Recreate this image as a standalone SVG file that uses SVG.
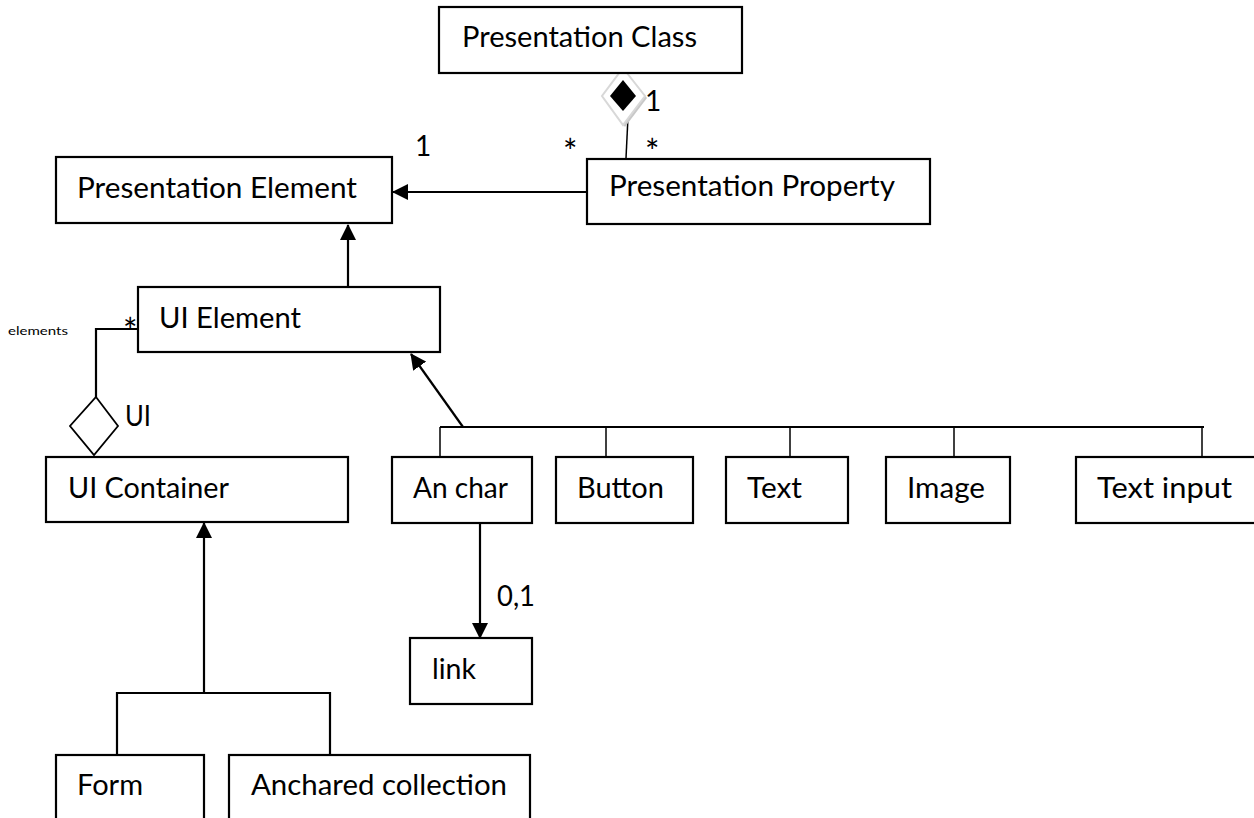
<svg xmlns="http://www.w3.org/2000/svg" width="1254" height="818" viewBox="0 0 1254 818">
<style>
.box{fill:#fff;stroke:#000;stroke-width:2.2}
.lbl{font-family:Lato,"Liberation Sans",sans-serif;font-size:28px;fill:#000}
.ast{font-family:Lato,"Liberation Sans",sans-serif;font-size:34px;fill:#000}
.small{font-family:Lato,"Liberation Sans",sans-serif;font-size:12px;fill:#000}
.ln{fill:none;stroke:#000;stroke-width:2.2}
.thin{fill:none;stroke:#000;stroke-width:1.5}
</style>
<defs>
<marker id="arr" markerUnits="userSpaceOnUse" markerWidth="16" markerHeight="16" refX="15" refY="8" orient="auto">
<path d="M0,0 L16,8 L0,16 Z" fill="#000"/>
</marker>
</defs>
<rect width="1254" height="818" fill="#fff"/>
<g id="connectors">
<line class="ln" x1="587" y1="192" x2="393" y2="192" marker-end="url(#arr)"/>
<line class="ln" x1="348" y1="287" x2="348" y2="225" marker-end="url(#arr)"/>
<polyline class="thin" points="626,158 628,117"/>
<polyline class="ln" points="138,329 96,329 96,397"/>
<polygon points="96,397 118,426 94,455 70,426" fill="#fff" stroke="#000" stroke-width="1.8"/>
<line class="ln" x1="463" y1="427" x2="411" y2="354" marker-end="url(#arr)"/>
<line class="ln" x1="440" y1="427" x2="1204" y2="427"/>
<line class="thin" x1="440" y1="427" x2="440" y2="457"/>
<line class="thin" x1="606" y1="427" x2="606" y2="457"/>
<line class="thin" x1="790" y1="427" x2="790" y2="457"/>
<line class="thin" x1="954" y1="427" x2="954" y2="457"/>
<line class="thin" x1="1202" y1="427" x2="1202" y2="457"/>
<line class="ln" x1="480" y1="523" x2="480" y2="638" marker-end="url(#arr)"/>
<line class="ln" x1="204" y1="693" x2="204" y2="523" marker-end="url(#arr)"/>
<polyline class="ln" points="117,755 117,693 330,693 330,755"/>
<polygon points="625,70 647,98 625,127 604,98" fill="#c8c8c8"/>
<polygon points="623,68 645,96 623,125 602,96" fill="#fff" stroke="#d8d8d8" stroke-width="2"/>
<polygon points="623,80 636,96 623,111 610,96" fill="#000"/>
</g>
<g id="presentation-class"><rect class="box" x="439" y="7" width="303" height="66"/><text class="lbl" x="462" y="47" textLength="235" lengthAdjust="spacingAndGlyphs">Presentation Class</text></g>
<g id="presentation-element"><rect class="box" x="56" y="157" width="336" height="66"/><text class="lbl" x="77" y="198" textLength="280" lengthAdjust="spacingAndGlyphs">Presentation Element</text></g>
<g id="presentation-property"><rect class="box" x="587" y="159" width="343" height="65"/><text class="lbl" x="609" y="196" textLength="286" lengthAdjust="spacingAndGlyphs">Presentation Property</text></g>
<g id="ui-element"><rect class="box" x="138" y="287" width="302" height="65"/><text class="lbl" x="159" y="328" textLength="142" lengthAdjust="spacingAndGlyphs">UI Element</text></g>
<g id="ui-container"><rect class="box" x="46" y="457" width="302" height="65"/><text class="lbl" x="68" y="498" textLength="161" lengthAdjust="spacingAndGlyphs">UI Container</text></g>
<g id="an-char"><rect class="box" x="392" y="457" width="140" height="66"/><text class="lbl" x="413" y="498" textLength="95" lengthAdjust="spacingAndGlyphs">An char</text></g>
<g id="button"><rect class="box" x="556" y="457" width="137" height="66"/><text class="lbl" x="577" y="498" textLength="87" lengthAdjust="spacingAndGlyphs">Button</text></g>
<g id="text"><rect class="box" x="726" y="457" width="122" height="66"/><text class="lbl" x="747" y="498" textLength="55" lengthAdjust="spacingAndGlyphs">Text</text></g>
<g id="image"><rect class="box" x="886" y="457" width="124" height="66"/><text class="lbl" x="907" y="498" textLength="78" lengthAdjust="spacingAndGlyphs">Image</text></g>
<g id="text-input"><rect class="box" x="1076" y="457" width="190" height="66"/><text class="lbl" x="1097" y="498" textLength="135" lengthAdjust="spacingAndGlyphs">Text input</text></g>
<g id="link"><rect class="box" x="410" y="638" width="122" height="66"/><text class="lbl" x="432" y="679" textLength="44" lengthAdjust="spacingAndGlyphs">link</text></g>
<g id="form"><rect class="box" x="56" y="755" width="148" height="80"/><text class="lbl" x="77" y="795" textLength="66" lengthAdjust="spacingAndGlyphs">Form</text></g>
<g id="anchared-collection"><rect class="box" x="229" y="755" width="301" height="80"/><text class="lbl" x="251" y="795" textLength="256" lengthAdjust="spacingAndGlyphs">Anchared collection</text></g>
<g id="labels">
<text class="lbl" x="645" y="111">1</text>
<text class="lbl" x="415" y="156">1</text>
<text class="ast" x="563" y="164">*</text>
<text class="ast" x="645" y="164">*</text>
<text class="ast" x="123" y="343">*</text>
<text class="small" x="8" y="335" textLength="60" lengthAdjust="spacingAndGlyphs">elements</text>
<text class="lbl" x="125" y="426" textLength="26" lengthAdjust="spacingAndGlyphs">UI</text>
<text class="lbl" x="497" y="606" textLength="38" lengthAdjust="spacingAndGlyphs">0,1</text>
</g>
</svg>
